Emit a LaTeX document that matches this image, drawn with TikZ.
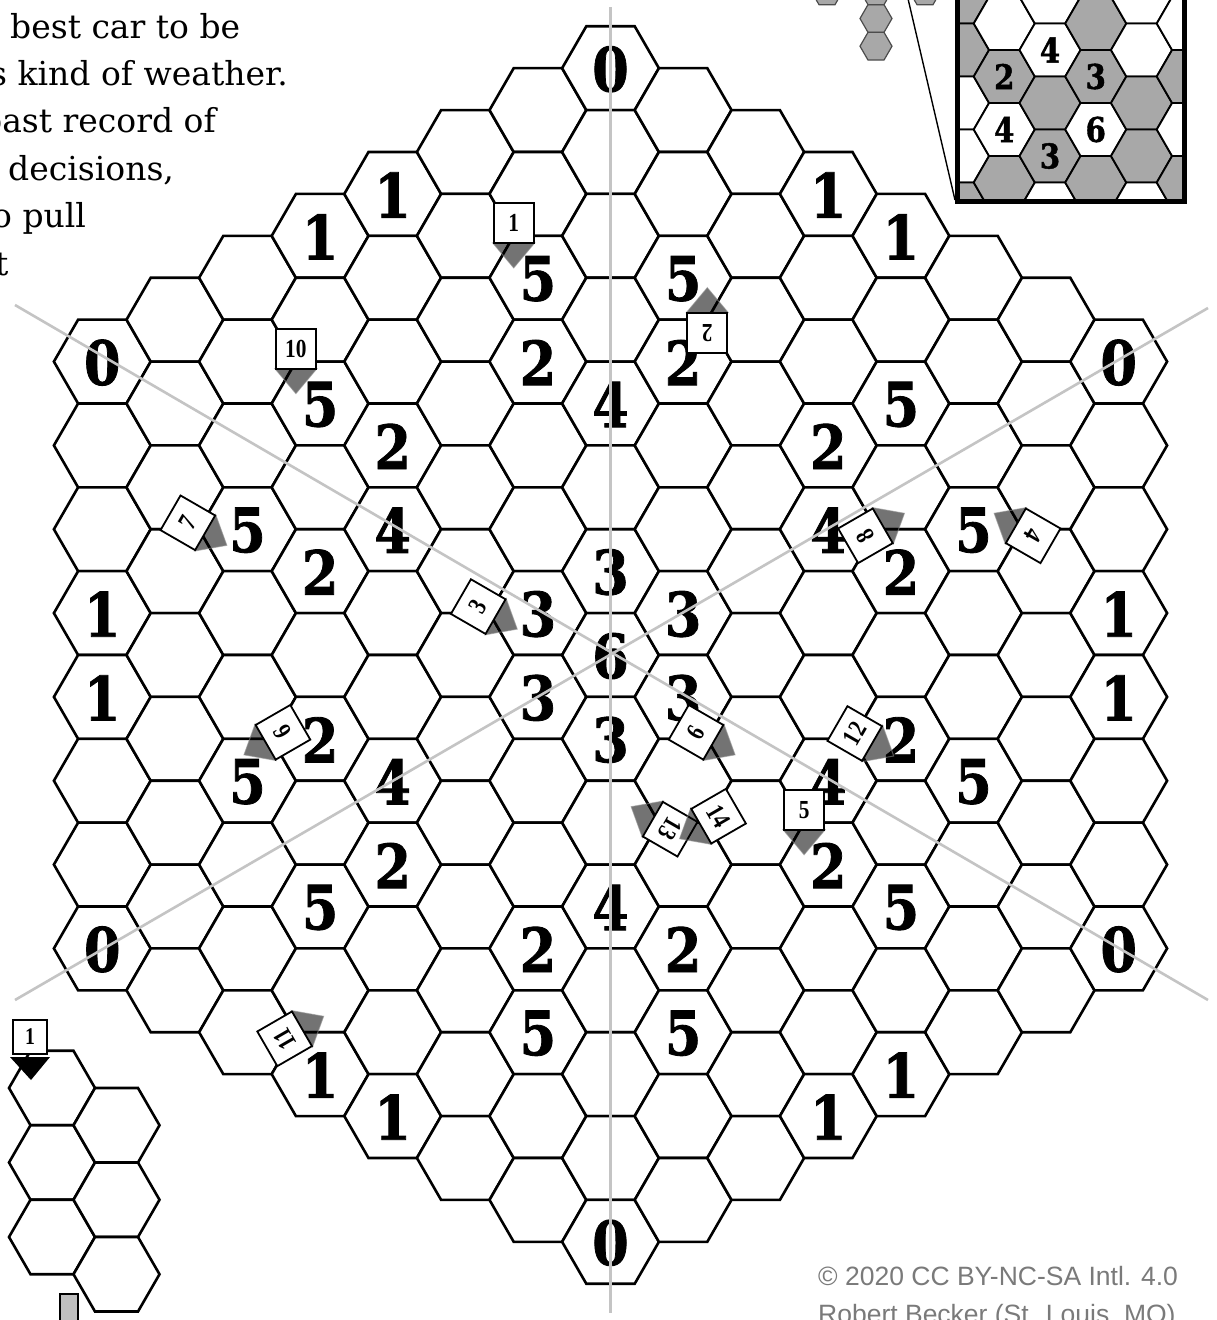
\documentclass[tikz,border=0pt]{standalone}
\usepackage{fontspec}
\usepackage{graphicx}
\setmainfont{DejaVu Serif}
\newfontfamily\numfont{DejaVu Serif}[BoldFeatures={FakeBold=1.4}]
\newfontfamily\mkfont{Liberation Serif}
\newfontfamily\capfont{Liberation Sans}
\definecolor{guidegray}{HTML}{C4C4C4}
\definecolor{insetgray}{HTML}{A8A8A8}
\definecolor{capgray}{HTML}{7A7A7A}
\newcommand\bn[1]{\scalebox{0.86}[1]{#1}}
\begin{document}
\begin{tikzpicture}[x=1pt,y=-1pt,
  hexcell/.style={draw=black, line width=2.6pt, fill=white},
  bignum/.style={inner sep=0pt, font=\numfont\bfseries\fontsize{61}{61}\selectfont},
  guide/.style={draw=guidegray, line width=2.6pt},
  mkbox/.style={draw=black, line width=1.8pt, fill=white},
  mktri/.style={fill=black, fill opacity=0.55, draw=black!45, draw opacity=0.6, line width=1pt},
  mklabel/.style={inner sep=0pt, font=\mkfont\bfseries\fontsize{26}{26}\selectfont, transform shape},
  insethex/.style={draw=black, line width=1.8pt},
  insetnum/.style={inner sep=0pt, font=\numfont\bfseries\fontsize{34}{34}\selectfont},
  minihex/.style={draw=black!70, line width=1.2pt, fill=insetgray},
  bodytext/.style={anchor=base west, inner sep=0pt, font=\fontsize{33}{33}\selectfont},
  capline/.style={anchor=base west, inner sep=0pt, text=capgray, font=\capfont\fontsize{26.5}{26.5}\selectfont},
  clue/.pic={
    \path[mktri] (-21,7) -- (21,7) -- (0,32) -- cycle;
    \path[mkbox] (-20,-33) rectangle (20,7);
    \node[mklabel] (-lab) at (0,-13) {\scalebox{0.82}[1]{#1}};
  },
]
\useasboundingbox[fill=white] (0,0) rectangle (1217,1320);

% ---- main hex board (radius 7) ----
\foreach \q in {-7,...,7}{
  \pgfmathtruncatemacro\rlo{max(-7,-7-\q)}
  \pgfmathtruncatemacro\rhi{min(7,7-\q)}
  \foreach \r in {\rlo,...,\rhi}{
    \pgfmathsetmacro\cx{610.5+72.6*\q}
    \pgfmathsetmacro\cy{655+83.83*(\r+0.5*\q)}
    \draw[hexcell] (\cx,\cy) +(0:48.4) -- +(60:48.4) -- +(120:48.4) -- +(180:48.4) -- +(240:48.4) -- +(300:48.4) -- cycle;
  }
}

% ---- numbers ----
\foreach \q/\r/\n in {
  0/-7/0, 0/-3/4, 0/-1/3, 0/0/6, 0/1/3, 0/3/4, 0/7/0,
  1/-5/5, 1/-4/2, 1/-1/3, 1/0/3, 1/3/2, 1/4/5,
  -1/-4/5, -1/-3/2, -1/0/3, -1/1/3, -1/4/2, -1/5/5,
  3/-7/1, 3/-4/2, 3/-3/4, 3/0/4, 3/1/2, 3/4/1,
  -3/-4/1, -3/-1/2, -3/0/4, -3/3/4, -3/4/2, -3/7/1,
  4/-7/1, 4/-5/5, 4/-3/2, 4/-1/2, 4/1/5, 4/3/1,
  -4/-3/1, -4/-1/5, -4/1/2, -4/3/2, -4/5/5, -4/7/1,
  5/-4/5, 5/-1/5, -5/1/5, -5/4/5,
  7/-7/0, 7/-4/1, 7/-3/1, 7/0/0,
  -7/0/0, -7/3/1, -7/4/1, -7/7/0}{
  \pgfmathsetmacro\cx{610.5+72.6*\q}
  \pgfmathsetmacro\cy{656+83.83*(\r+0.5*\q)}
  \node[bignum] (num\q\r) at (\cx,\cy) {\bn{\n}};
}

% ---- guide lines ----
\coordinate (gvT) at (610.5,7);
\coordinate (gvB) at (610.5,1313);
\coordinate (gdA1) at (15,305);
\coordinate (gdA2) at (1208,1000);
\coordinate (gdB1) at (15,1000);
\coordinate (gdB2) at (1208,308);
\draw[guide] (gvT) -- (gvB);
\draw[guide] (gdA1) -- (gdA2);
\draw[guide] (gdB1) -- (gdB2);

% ---- clue markers ----
\pic (m1) at (513.7,235.9) {clue=1};
\pic[rotate=180] (m2) at (707.3,319.7) {clue=2};
\pic (m10) at (295.9,361.6) {clue=10};
\pic[rotate=60] (m7) at (199.1,529.3) {clue=7};
\pic[rotate=60] (m3) at (489.5,613.1) {clue=3};
\pic[rotate=60] (m6) at (707.3,738.8) {clue=6};
\pic[rotate=120] (m8) at (876.7,529.3) {clue=8};
\pic[rotate=240] (m4) at (1021.9,529.3) {clue=4};
\pic[rotate=300] (m9) at (271.7,738.8) {clue=9};
\pic[rotate=60] (m12) at (866,740) {clue=12};
\pic (m5) at (804.1,822.7) {clue=5};
\pic[rotate=240] (m13) at (658.9,822.7) {clue=13};
\pic[rotate=300] (m14) at (707.3,822.7) {clue=14};
\pic[rotate=120] (m11) at (295.9,1032.3) {clue=11};

% ---- small example group, bottom left ----
\foreach \cx/\cy in {52/1088, 52/1162.5, 52/1237, 116.5/1125.25, 116.5/1199.75, 116.5/1274.25}{
  \draw[hexcell] (\cx,\cy) +(0:43) -- +(60:43) -- +(120:43) -- +(180:43) -- +(240:43) -- +(300:43) -- cycle;
}
\fill[black] (10,1057) -- (50,1057) -- (31,1080) -- cycle;
\node[draw=black, line width=1.6pt, fill=white, minimum size=34pt, inner sep=0pt,
      font=\mkfont\bfseries\fontsize{24}{24}\selectfont] (exbox) at (30,1037) {\scalebox{0.82}[1]{1}};
\draw[fill=black!25, line width=1.5pt] (60,1294) rectangle (78,1335);

% ---- mini solution hexes, top right ----
\foreach \cx/\cy in {876/18.5, 876/46.2, 827/-9.2, 876/-9.2, 925/-9.2}{
  \draw[minihex] (\cx,\cy) +(0:16) -- +(60:16) -- +(120:16) -- +(180:16) -- +(240:16) -- +(300:16) -- cycle;
}

% ---- inset ----
\begin{scope}
  \clip (957,-12) rectangle (1184.5,201);
  \fill[white] (957,-12) rectangle (1184.5,201);
  \foreach \k/\yy/\f in {
    -2/-3/insetgray, -2/50/insetgray, -2/103/white, -2/156/white, -2/209/insetgray,
    -1/23.5/white, -1/76.5/insetgray, -1/129.5/white, -1/182.5/insetgray,
    0/-3/white, 0/50/white, 0/103/insetgray, 0/156/insetgray, 0/209/white,
    1/23.5/insetgray, 1/76.5/insetgray, 1/129.5/white, 1/182.5/insetgray,
    2/-3/white, 2/50/white, 2/103/insetgray, 2/156/insetgray, 2/209/white,
    3/23.5/white, 3/76.5/insetgray, 3/129.5/white, 3/182.5/insetgray}{
    \pgfmathsetmacro\cx{1050+45.75*\k}
    \draw[insethex, fill=\f] (\cx,\yy) +(0:30.5) -- +(60:30.5) -- +(120:30.5) -- +(180:30.5) -- +(240:30.5) -- +(300:30.5) -- cycle;
  }
\end{scope}
\foreach \x/\y/\n/\nm in {1050/50/4/ia, 1004.25/76.5/2/ib, 1095.75/76.5/3/ic,
  1004.25/129.5/4/id, 1095.75/129.5/6/ie, 1050/156/3/if}{
  \node[insetnum] (\nm) at (\x,\y) {\bn{\n}};
}
\draw[line width=5pt] (957,-12) -- (957,201) -- (1184.5,201) -- (1184.5,-12);
\coordinate (magTop) at (905.5,-12);
\coordinate (magBL) at (955,200);
\draw[line width=1.4pt] (magTop) -- (magBL);

% ---- clipped paragraph, top left ----
\node[bodytext] (t1) at (10,38) {best car to be};
\node[bodytext] (t2) at (-10,85) {s kind of weather.};
\node[bodytext] (t3) at (-19,132) {past record of};
\node[bodytext] (t4) at (8,180) {decisions,};
\node[bodytext] (t5) at (-8,227) {o pull};
\node[bodytext] (t6) at (-5,275) {t};

% ---- credit ----
\node[capline] (c1) at (818,1285) {© 2020 CC BY-NC-SA Intl. 4.0};
\node[capline] (c2) at (818,1323) {Robert Becker (St. Louis, MO)};
\end{tikzpicture}
\end{document}
